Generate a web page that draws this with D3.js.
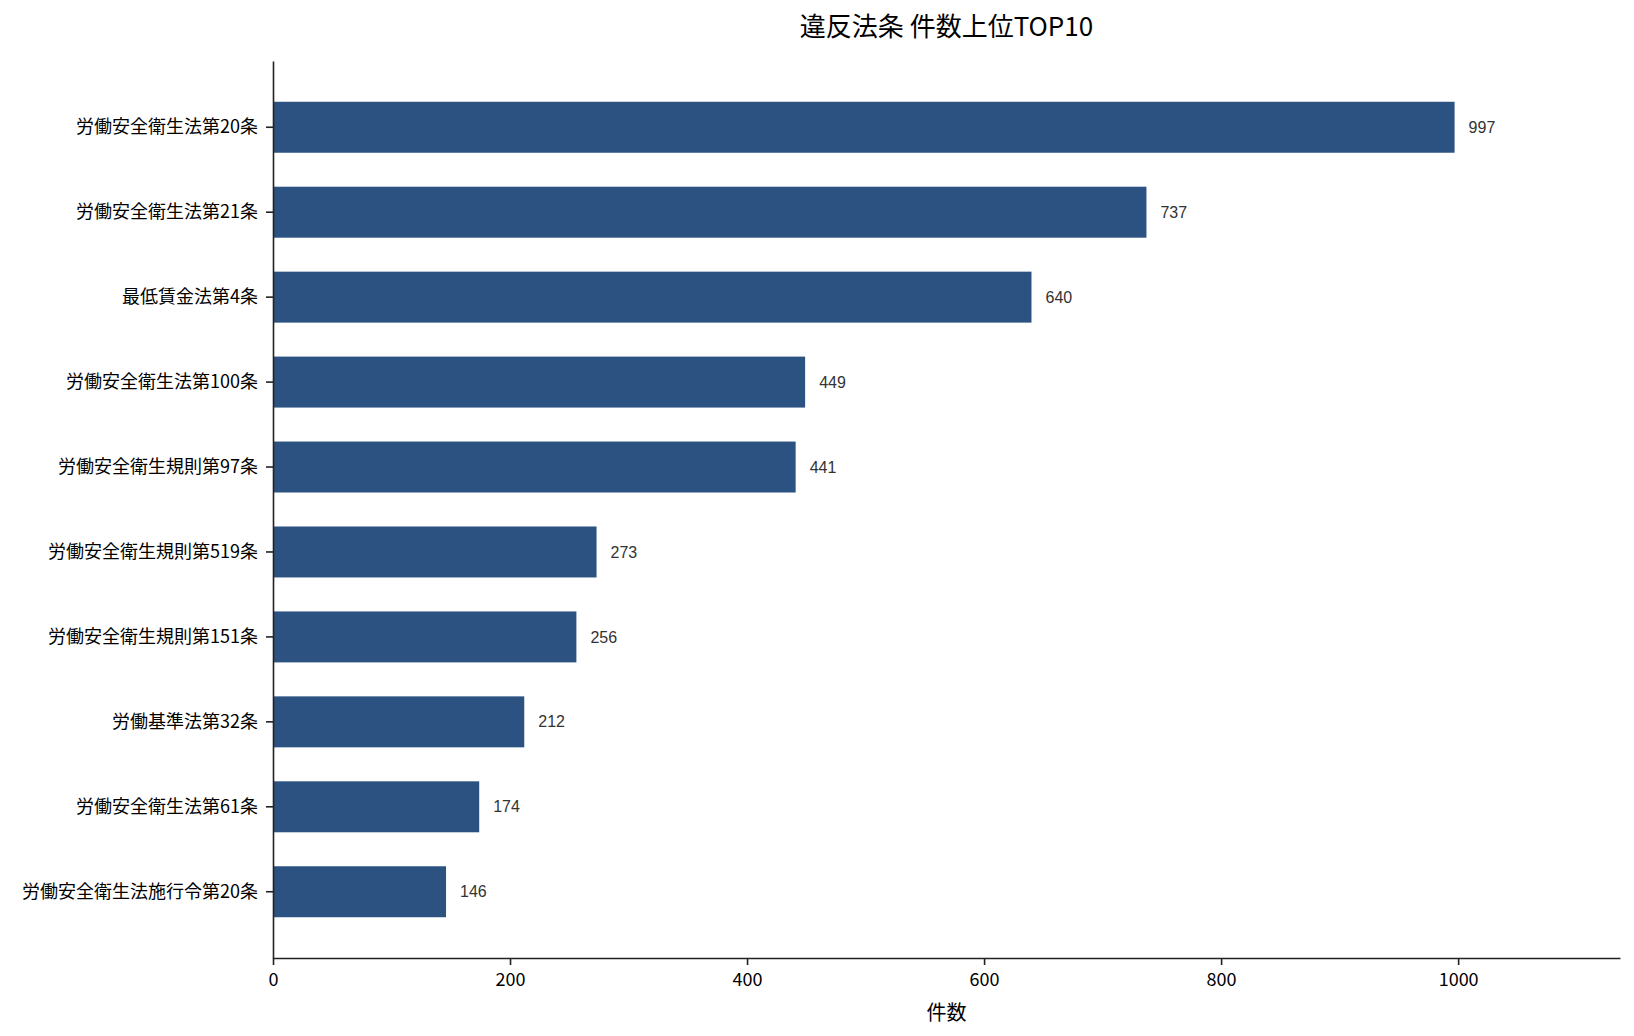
<!DOCTYPE html>
<html>
<head>
<meta charset="utf-8">
<script src="https://cdn.jsdelivr.net/npm/d3@7"></script>
<style>
  body { margin: 0; background: #fff; }
  svg { display: block; }
</style>
</head>
<body>
<svg></svg>
<script>
// data
const laws = [
    "労働安全衛生法第20条",
    "労働安全衛生法第21条",
    "最低賃金法第4条",
    "労働安全衛生法第100条",
    "労働安全衛生規則第97条",
    "労働安全衛生規則第519条",
    "労働安全衛生規則第151条",
    "労働基準法第32条",
    "労働安全衛生法第61条",
    "労働安全衛生法施行令第20条"
];
const counts = [997, 737, 640, 449, 441, 273, 256, 212, 174, 146];
const xTicks = [0, 200, 400, 600, 800, 1000];

const width = 1634;
const height = 1036;
const margin = { top: 61, right: 14, bottom: 78, left: 273 };
const cjk = "'Noto Sans CJK JP', sans-serif";

const data = laws.map((name, i) => ({ name, value: counts[i] }));

const svg = d3.select("svg")
    .attr("width", width)
    .attr("height", height);

const x = d3.scaleLinear()
    .domain([0, d3.max(counts) * 1.14])
    .range([margin.left, width - margin.right]);

const y = d3.scaleBand()
    .domain(laws)
    .range([margin.top, height - margin.bottom])
    .paddingInner(0.4)
    .paddingOuter(0.48);

// bars
svg.append("g")
    .selectAll("rect")
    .data(data)
    .enter().append("rect")
    .attr("x", x(0))
    .attr("y", d => y(d.name))
    .attr("width", d => x(d.value) - x(0))
    .attr("height", y.bandwidth())
    .attr("fill", "#2c5282");

// value labels next to each bar
svg.append("g")
    .selectAll("text")
    .data(data)
    .enter().append("text")
    .attr("x", d => x(d.value) + 14)
    .attr("y", d => y(d.name) + y.bandwidth() / 2)
    .attr("dy", "0.35em")
    .style("font-family", "'Liberation Sans', Arial, sans-serif")
    .style("font-size", "16px")
    .style("fill", "#333")
    .text(d => d.value);

// axes (left + bottom spines only)
const xAxis = svg.append("g")
    .attr("transform", `translate(0, ${height - margin.bottom})`)
    .call(d3.axisBottom(x).tickValues(xTicks).tickFormat(d3.format("d"))
        .tickSize(7).tickSizeOuter(0).tickPadding(8));

const yAxis = svg.append("g")
    .attr("transform", `translate(${margin.left}, 0)`)
    .call(d3.axisLeft(y).tickSize(7).tickSizeOuter(0).tickPadding(8));

[xAxis, yAxis].forEach(g => {
    g.select(".domain").attr("stroke", "#222").attr("stroke-width", 1.6);
    g.selectAll(".tick line").attr("stroke", "#222").attr("stroke-width", 1.6);
    g.selectAll(".tick text")
        .style("font-family", cjk)
        .style("font-weight", 400)
        .style("fill", "#000");
});
xAxis.selectAll(".tick text").style("font-size", "18px");
yAxis.selectAll(".tick text").style("font-size", "18px");

// title and axis label
const cx = (margin.left + width - margin.right) / 2;

svg.append("text")
    .attr("x", cx)
    .attr("y", 27)
    .attr("dy", "0.35em")
    .attr("text-anchor", "middle")
    .style("font-family", cjk)
    .style("font-size", "26px")
    .style("fill", "#000")
    .text("違反法条 件数上位TOP10");

svg.append("text")
    .attr("x", cx)
    .attr("y", 1013)
    .attr("dy", "0.35em")
    .attr("text-anchor", "middle")
    .style("font-family", cjk)
    .style("font-size", "20px")
    .style("fill", "#000")
    .text("件数");
</script>
</body>
</html>
